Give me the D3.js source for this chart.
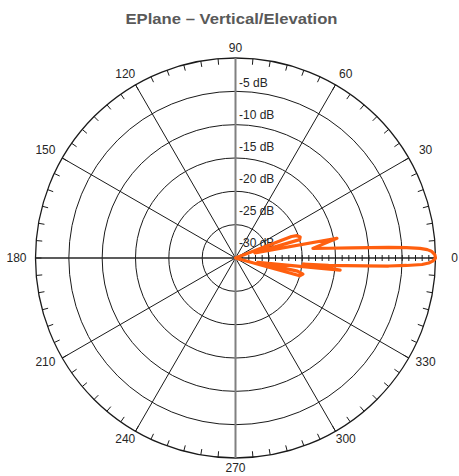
<!DOCTYPE html>
<html>
<head>
<meta charset="utf-8">
<script src="https://cdn.jsdelivr.net/npm/d3@7"></script>
<style>
  body { margin: 0; background: #fff; }
  text { font-family: "Liberation Sans", Arial, sans-serif; }
</style>
</head>
<body>
<svg id="chart"></svg>
<script>
var width = 459;
var height = 476;
var cx = 235.5;
var cy = 258;
var radius = 200;

// pattern, degrees (counter-clockwise from 0) and dB
var patternAngles = [0, 1, 2, 2.5, 3, 3.5, 4, 5, 6, 7.1, 11, 15, 16, 18, 20, 21, 22,
  90, 180, 270, 344, 344.5, 346.5, 348, 348.7, 353.4, 354.9, 355.5, 356, 356.5, 357, 357.5, 358, 358.5, 359, 359.5];
var patternDb = [0, -0.1, -0.6, -1.2, -2.3, -4.3, -7, -12.5, -16, -18.3, -14.5, -27, -20, -19.8, -20.2, -21, -30,
  -30, -30, -30, -30, -20, -19.6, -20.5, -26.6, -14.2, -19.8, -16, -13.5, -10.5, -7, -4.3, -2, -1, -0.5, -0.2];

var ringDb = [-25, -20, -15, -10, -5, 0];
var ringLabelDb = [-5, -10, -15, -20, -25, -30];
var angleTicks = [0, 30, 60, 90, 120, 150, 180, 210, 240, 270, 300, 330];
var titleText = 'EPlane \u2013 Vertical/Elevation';

var svg = d3.select('#chart')
  .attr('width', width)
  .attr('height', height);

var rScale = d3.scaleLinear()
  .domain([-30, 0])
  .range([0, radius])
  .clamp(true);

function rad(deg) { return deg * Math.PI / 180; }

var g = svg.append('g')
  .attr('transform', 'translate(' + cx + ',' + cy + ')');

// rings
g.selectAll('.ring')
  .data(ringDb)
  .enter().append('circle')
    .attr('r', function(d) { return rScale(d); })
    .attr('fill', 'none')
    .attr('stroke', '#1a1a1a')
    .attr('stroke-width', function(d) { return d == 0 ? 1.3 : 1; });

// spokes
g.selectAll('.spoke')
  .data(angleTicks.filter(function(a) { return a % 90 != 0; }))
  .enter().append('line')
    .attr('x1', 0).attr('y1', 0)
    .attr('x2', function(a) { return radius * Math.cos(rad(a)); })
    .attr('y2', function(a) { return -radius * Math.sin(rad(a)); })
    .attr('stroke', '#1a1a1a')
    .attr('stroke-width', 1);

// minor ticks on outer ring every 5 deg
g.selectAll('.atick')
  .data(d3.range(0, 360, 5))
  .enter().append('line')
    .attr('x1', function(a) { return radius * Math.cos(rad(a)); })
    .attr('y1', function(a) { return -radius * Math.sin(rad(a)); })
    .attr('x2', function(a) { return (radius - 6) * Math.cos(rad(a)); })
    .attr('y2', function(a) { return -(radius - 6) * Math.sin(rad(a)); })
    .attr('stroke', '#1a1a1a')
    .attr('stroke-width', 1);

// horizontal and vertical axes
g.append('line')
  .attr('x1', -radius).attr('y1', 0).attr('x2', radius).attr('y2', 0)
  .attr('stroke', '#262626')
  .attr('stroke-width', 1.5);
g.append('line')
  .attr('x1', 0).attr('y1', -radius).attr('x2', 0).attr('y2', radius)
  .attr('stroke', '#808080')
  .attr('stroke-width', 2);

// radial axis ticks every 1 dB along 0 deg
g.selectAll('.rtick')
  .data(d3.range(-29, 1, 1))
  .enter().append('line')
    .attr('x1', function(d) { return rScale(d); })
    .attr('x2', function(d) { return rScale(d); })
    .attr('y1', -3)
    .attr('y2', 3)
    .attr('stroke', '#1a1a1a')
    .attr('stroke-width', 1);

// dB labels
g.selectAll('.rlabel')
  .data(ringLabelDb)
  .enter().append('text')
    .attr('x', 3.5)
    .attr('y', function(d) { return -11 - rScale(d) * 0.96; })
    .attr('font-size', 12)
    .attr('fill', '#262626')
    .text(function(d) { return d + ' dB'; });

// angle labels
g.selectAll('.alabel')
  .data(angleTicks)
  .enter().append('text')
    .attr('x', function(a) {
      var c = Math.cos(rad(a));
      return (radius + 21 - 2 * c * c) * c;
    })
    .attr('y', function(a) {
      var c = Math.cos(rad(a)), s = Math.sin(rad(a));
      var dy = s > 0 ? 10 + 8 * c * c : 10 - 2.5 * c * c;
      return -(radius + dy) * s;
    })
    .attr('text-anchor', 'middle')
    .attr('dominant-baseline', 'central')
    .attr('font-size', 12)
    .attr('fill', '#262626')
    .text(function(a) { return a; });

// pattern
var pattern = patternAngles.map(function(a, i) { return [a, patternDb[i]]; });

var line = d3.lineRadial()
  .angle(function(d) { return Math.PI / 2 - rad(d[0]); })
  .radius(function(d) { return rScale(d[1]); })
  .curve(d3.curveLinearClosed);

g.append('path')
  .datum(pattern)
  .attr('d', line)
  .attr('fill', 'none')
  .attr('stroke', '#ff5f0f')
  .attr('stroke-width', 3.2)
  .attr('stroke-linejoin', 'round');

// title
svg.append('text')
  .attr('x', 231.5)
  .attr('y', 24)
  .attr('text-anchor', 'middle')
  .attr('font-size', 15.5)
  .attr('font-weight', 'bold')
  .attr('fill', '#595959')
  .attr('textLength', 212)
  .attr('lengthAdjust', 'spacingAndGlyphs')
  .text(titleText);
</script>
</body>
</html>
